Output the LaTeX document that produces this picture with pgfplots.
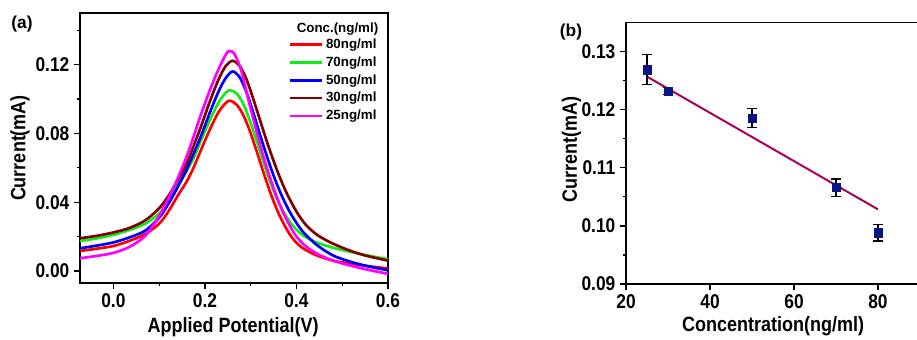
\documentclass[border=0pt]{standalone}
\usepackage{graphicx}
\usepackage{pgfplots}
\pgfplotsset{compat=1.18}
\usepackage{fontspec}
\setmainfont{Liberation Sans}
\definecolor{cRed}{RGB}{255,0,0}
\definecolor{cGreen}{RGB}{20,235,20}
\definecolor{cBlue}{RGB}{0,0,255}
\definecolor{cBrown}{RGB}{128,0,0}
\definecolor{cMag}{RGB}{255,0,255}
\definecolor{cNavy}{RGB}{10,20,130}
\definecolor{cFit}{RGB}{170,0,90}
\newcommand{\vs}[1]{\scalebox{1}[1.15]{#1}}
\pgfplotsset{
  myax/.style={
    scale only axis, anchor=south west,
    axis line style={line width=1pt},
    every tick/.style={line width=0.9pt, black},
    tick align=outside, tick pos=left,
    major tick length=4.5pt, minor tick length=2.5pt,
    tick label style={font=\bfseries\fontsize{13}{15}\selectfont},
    /pgf/number format/assume math mode=true,
    scaled x ticks=false, scaled y ticks=false,
    xticklabel={\vs{\pgfmathprintnumber{\tick}}},
    yticklabel={\vs{\pgfmathprintnumber{\tick}}},
  },
  crv/.style={line width=2pt, smooth, tension=0.5, no marks},
}
\begin{document}
\begin{tikzpicture}
\useasboundingbox (0,0) rectangle (687.75pt,254.25pt);
\clip (0,0) rectangle (687.75pt,254.25pt);
% ---------- panel (a)
\begin{axis}[myax, at={(60pt,42pt)}, width=231pt, height=202.5pt,
  xmin=-0.073, xmax=0.6, ymin=-0.007, ymax=0.15,
  xtick={0,0.2,0.4,0.6}, minor xtick={0.1,0.3,0.5},
  ytick={0,0.04,0.08,0.12}, minor ytick={0.02,0.06,0.10,0.14},
  xticklabel style={/pgf/number format/.cd, fixed, fixed zerofill, precision=1},
  yticklabel style={/pgf/number format/.cd, fixed, fixed zerofill, precision=2},
  xlabel={\vs{Applied Potential(V)}}, ylabel={\vs{Current(mA)}},
  every axis x label/.style={at={(rel axis cs:0.497,-0.182)}, anchor=base, font=\bfseries\fontsize{13.5}{16}\selectfont},
  every axis y label/.style={at={(rel axis cs:-0.195,0.5)}, anchor=center, rotate=90, font=\bfseries\fontsize{13.5}{16}\selectfont},
  legend style={draw=none, fill=none, at={(rel axis cs:0.985,0.925)}, anchor=north east,
    font=\bfseries\fontsize{10}{12}\selectfont, row sep=0.6pt},
  legend cell align=left,
  legend image code/.code={\draw[#1, line width=2pt] (0,0) -- (24pt,0);},
]
\addplot[cRed, crv] coordinates {(-0.073,0.0116)(-0.035,0.0130)(0,0.0145)(0.035,0.0175)(0.07,0.0215)(0.1,0.0275)(0.12,0.0345)(0.14,0.0435)(0.16,0.0520)(0.175,0.0600)(0.19,0.0695)(0.212,0.0830)(0.23,0.0925)(0.245,0.0975)(0.255,0.0990)(0.27,0.0965)(0.285,0.0900)(0.30,0.0800)(0.315,0.0680)(0.33,0.0555)(0.345,0.0440)(0.36,0.0340)(0.375,0.0260)(0.39,0.0195)(0.41,0.0140)(0.44,0.0095)(0.48,0.0060)(0.52,0.0042)(0.56,0.0027)(0.60,0.0014)};
\addlegendentry{80ng/ml}
\addplot[cGreen, crv] coordinates {(-0.073,0.0174)(-0.035,0.0190)(0,0.0210)(0.035,0.0238)(0.07,0.0275)(0.1,0.0335)(0.12,0.0405)(0.14,0.0495)(0.16,0.0580)(0.175,0.0655)(0.19,0.0750)(0.212,0.0885)(0.23,0.0980)(0.245,0.1035)(0.255,0.1051)(0.27,0.1030)(0.285,0.0965)(0.30,0.0860)(0.315,0.0740)(0.33,0.0615)(0.345,0.0500)(0.36,0.0405)(0.375,0.0330)(0.39,0.0270)(0.41,0.0215)(0.44,0.0170)(0.48,0.0135)(0.52,0.0110)(0.56,0.0088)(0.60,0.0068)};
\addlegendentry{70ng/ml}
\addplot[cBlue, crv] coordinates {(-0.073,0.0132)(-0.035,0.0148)(0,0.0166)(0.035,0.0195)(0.07,0.0235)(0.1,0.0310)(0.12,0.0390)(0.14,0.0485)(0.16,0.0590)(0.175,0.0680)(0.19,0.0775)(0.212,0.0930)(0.23,0.1045)(0.245,0.1120)(0.26,0.1160)(0.275,0.1130)(0.29,0.1045)(0.305,0.0925)(0.32,0.0795)(0.335,0.0670)(0.35,0.0555)(0.365,0.0455)(0.38,0.0370)(0.395,0.0300)(0.415,0.0225)(0.445,0.0150)(0.48,0.0090)(0.52,0.0052)(0.56,0.0025)(0.60,0.0004)};
\addlegendentry{50ng/ml}
\addplot[cBrown, crv] coordinates {(-0.073,0.0190)(-0.035,0.0205)(0,0.0224)(0.035,0.0250)(0.07,0.0295)(0.1,0.0365)(0.12,0.0435)(0.14,0.0525)(0.16,0.0625)(0.175,0.0725)(0.19,0.0830)(0.212,0.0995)(0.23,0.1115)(0.245,0.1190)(0.26,0.1222)(0.275,0.1195)(0.29,0.1120)(0.305,0.1005)(0.32,0.0880)(0.335,0.0755)(0.35,0.0640)(0.365,0.0535)(0.38,0.0445)(0.40,0.0345)(0.42,0.0270)(0.445,0.0210)(0.475,0.0165)(0.51,0.0125)(0.55,0.0090)(0.60,0.0060)};
\addlegendentry{30ng/ml}
\addplot[cMag, crv] coordinates {(-0.073,0.0074)(-0.035,0.0088)(0,0.0105)(0.035,0.0140)(0.07,0.0205)(0.1,0.0320)(0.12,0.0420)(0.14,0.0535)(0.16,0.0665)(0.175,0.0780)(0.19,0.0900)(0.212,0.1060)(0.23,0.1175)(0.245,0.1255)(0.253,0.1280)(0.265,0.1260)(0.28,0.1160)(0.295,0.0995)(0.31,0.0840)(0.325,0.0690)(0.34,0.0560)(0.355,0.0445)(0.37,0.0345)(0.385,0.0265)(0.40,0.0200)(0.42,0.0145)(0.445,0.0100)(0.48,0.0060)(0.52,0.0030)(0.56,0.0005)(0.60,-0.0017)};
\addlegendentry{25ng/ml}
\node[font=\bfseries\fontsize{10}{12}\selectfont, anchor=center] at (rel axis cs:0.836,0.942) {Conc.(ng/ml)};
\end{axis}
\node[font=\bfseries\fontsize{13}{15}\selectfont] at (16.5pt,236.25pt) {(a)};
% ---------- panel (b)
\begin{axis}[myax, at={(469.5pt,41.25pt)}, width=220.5pt, height=196pt,
  xmin=20, xmax=90, ymin=0.09, ymax=0.135,
  xtick={20,40,60,80},
  ytick={0.09,0.10,0.11,0.12,0.13}, minor ytick={0.095,0.105,0.115,0.125},
  yticklabel style={/pgf/number format/.cd, fixed, fixed zerofill, precision=2},
  xlabel={\vs{Concentration(ng/ml)}}, ylabel={\vs{Current(mA)}},
  every axis x label/.style={at={(rel axis cs:0.5,-0.182)}, anchor=base, font=\bfseries\fontsize{13.5}{16}\selectfont},
  every axis y label/.style={at={(rel axis cs:-0.185,0.513)}, anchor=center, rotate=90, font=\bfseries\fontsize{13.5}{16}\selectfont},
]
\addplot[cFit, line width=1.5pt, no marks] coordinates {(25,0.12571)(80,0.10285)};
\addplot[only marks, mark=square*, mark size=3.1pt, mark options={fill=cNavy, draw=cNavy},
  error bars/.cd, y dir=both, y explicit,
  error bar style={line width=1pt, black},
  error mark options={rotate=90, mark size=3.6pt, line width=1pt, black}]
  table[x=x, y=y, y error=e] {
x y e
25 0.1269 0.0026
30 0.1232 0.0006
50 0.1186 0.0016
70 0.1066 0.0015
80 0.0988 0.0014
};
\end{axis}
\node[font=\bfseries\fontsize{13}{15}\selectfont] at (428.25pt,230.25pt) {(b)};
\end{tikzpicture}
\end{document}
